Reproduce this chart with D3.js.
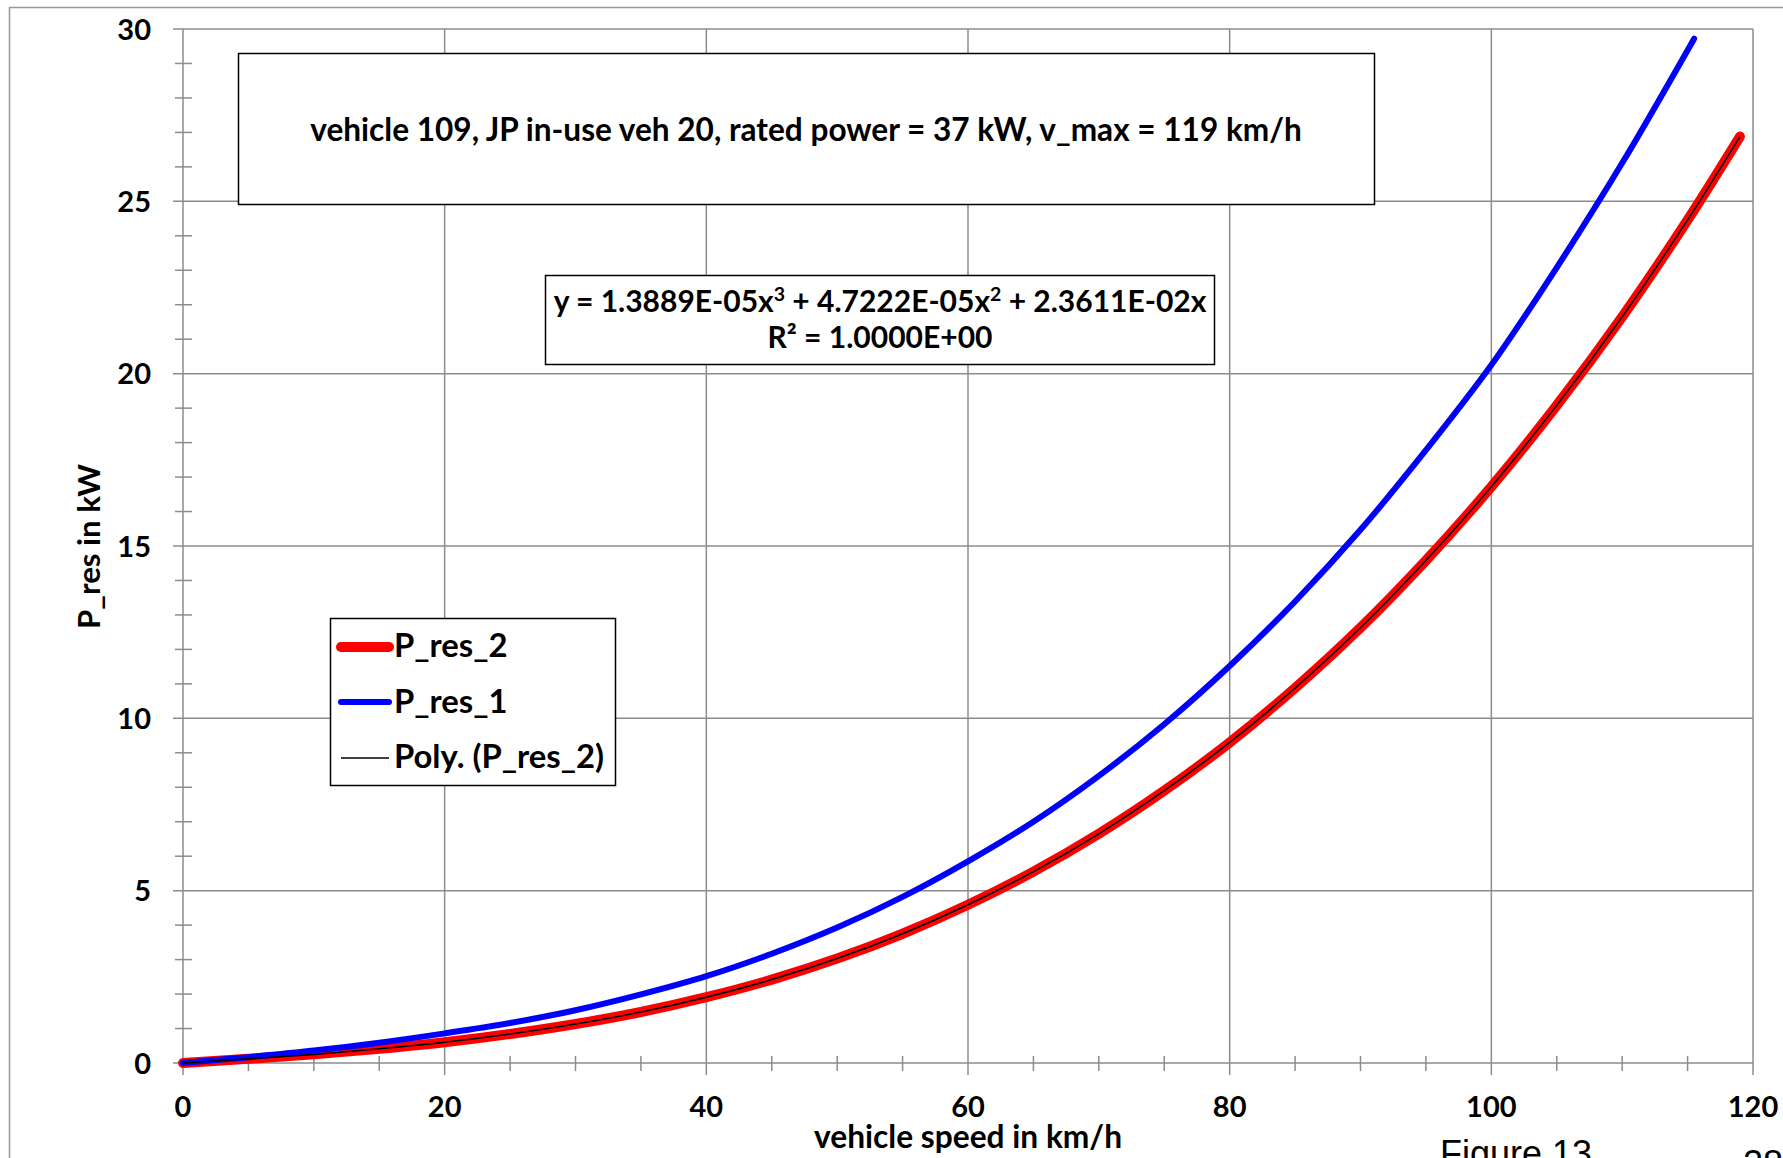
<!DOCTYPE html>
<html>
<head>
<meta charset="utf-8">
<script src="https://cdn.jsdelivr.net/npm/d3@7"></script>
<style>
  html, body { margin: 0; padding: 0; background: #fff; overflow: hidden; }
  svg { display: block; }
  text { font-family: Lato, "Open Sans", sans-serif; font-weight: bold; fill: #000; }
</style>
</head>
<body>
<svg id="chart" width="1783" height="1158"></svg>
<script>
// ---- data ----
const speedRes2 = [0, 5, 10, 15, 20, 25, 30, 35, 40, 45, 50, 55, 60, 65, 70, 75, 80, 85, 90, 95, 100, 105, 110, 115, 119];
const pRes2     = [0, 0.12, 0.25, 0.41, 0.60, 0.84, 1.13, 1.48, 1.91, 2.42, 3.03, 3.75, 4.59, 5.55, 6.65, 7.90, 9.30, 10.88, 12.63, 14.58, 16.72, 19.08, 21.65, 24.46, 26.88];
const speedRes1 = [0, 5, 10, 15, 20, 25, 30, 35, 40, 45, 50, 55, 60, 65, 70, 75, 80, 85, 90, 95, 100, 105, 110, 115.5];
const pRes1     = [0, 0.17, 0.36, 0.59, 0.86, 1.16, 1.53, 1.99, 2.52, 3.17, 3.93, 4.82, 5.85, 7.00, 8.33, 9.83, 11.52, 13.39, 15.47, 17.78, 20.25, 23.08, 26.11, 29.72];
const xTicks = [0, 20, 40, 60, 80, 100, 120];
const yTicks = [0, 5, 10, 15, 20, 25, 30];
const seriesNames = ["P_res_2", "P_res_1", "Poly. (P_res_2)"];
const titleText = "vehicle 109, JP in-use veh 20, rated power = 37 kW, v_max = 119 km/h";
const xLabel = "vehicle speed in km/h";
const yLabel = "P_res in kW";

// ---- layout ----
const svg = d3.select("#chart");
const x = d3.scaleLinear().domain([0, 120]).range([183, 1753]);
const y = d3.scaleLinear().domain([0, 30]).range([1063, 29]);
const gridColor = "#8c8c8c";

function fit(sel, target) {
  const w = sel.node().getComputedTextLength();
  const fs = parseFloat(sel.attr("font-size"));
  sel.attr("font-size", (fs * target / w).toFixed(2));
  return sel;
}

// outer frame
svg.append("path").attr("d", "M9.5,1158 L9.5,7.5 L1783,7.5")
  .attr("fill", "none").attr("stroke", "#999").attr("stroke-width", 1.5);

// grid
const g = svg.append("g");
g.selectAll("line.vg").data(xTicks).join("line")
  .attr("x1", d => x(d)).attr("x2", d => x(d))
  .attr("y1", y(30)).attr("y2", y(0) + 12)
  .attr("stroke", gridColor).attr("stroke-width", 1.5);
g.selectAll("line.hg").data(yTicks).join("line")
  .attr("y1", d => y(d)).attr("y2", d => y(d))
  .attr("x1", x(0) - 10).attr("x2", x(120))
  .attr("stroke", gridColor).attr("stroke-width", 1.5);
// minor ticks
const xMinor = d3.range(0, 121, 5).filter(d => d % 20 !== 0);
const yMinor = d3.range(0, 31, 1).filter(d => d % 5 !== 0);
g.selectAll("line.xm").data(xMinor).join("line")
  .attr("x1", d => x(d)).attr("x2", d => x(d))
  .attr("y1", y(0) - 7).attr("y2", y(0) + 8)
  .attr("stroke", gridColor).attr("stroke-width", 1.5);
g.selectAll("line.ym").data(yMinor).join("line")
  .attr("y1", d => y(d)).attr("y2", d => y(d))
  .attr("x1", x(0) - 8).attr("x2", x(0) + 9)
  .attr("stroke", gridColor).attr("stroke-width", 1.5);

// tick labels
svg.selectAll("text.xt").data(xTicks).join("text")
  .attr("x", d => x(d)).attr("y", 1117)
  .attr("text-anchor", "middle").attr("font-size", 29)
  .text(d => d);
svg.selectAll("text.yt").data(yTicks).join("text")
  .attr("x", 151).attr("y", d => y(d) + 10.5)
  .attr("text-anchor", "end").attr("font-size", 29)
  .text(d => d);

// axis titles
fit(svg.append("text").attr("x", 968).attr("y", 1148)
  .attr("text-anchor", "middle").attr("font-size", 27).text(xLabel), 308);
fit(svg.append("text").attr("transform", "translate(100,546.5) rotate(-90)")
  .attr("text-anchor", "middle").attr("font-size", 27).text(yLabel), 165);

// title box
svg.append("rect").attr("x", 238.5).attr("y", 53.5).attr("width", 1136).attr("height", 151)
  .attr("fill", "#fff").attr("stroke", "#000").attr("stroke-width", 1.5);
fit(svg.append("text").attr("x", 806).attr("y", 141)
  .attr("text-anchor", "middle").attr("font-size", 27).text(titleText), 992);

// equation box
svg.append("rect").attr("x", 545.5).attr("y", 275.5).attr("width", 669).attr("height", 89)
  .attr("fill", "#fff").attr("stroke", "#000").attr("stroke-width", 1.5);
const eq = svg.append("text").attr("x", 880).attr("y", 312).attr("text-anchor", "middle").attr("font-size", 28);
eq.append("tspan").text("y = 1.3889E-05x");
eq.append("tspan").attr("baseline-shift", "super").attr("font-size", "65%").text("3");
eq.append("tspan").text(" + 4.7222E-05x");
eq.append("tspan").attr("baseline-shift", "super").attr("font-size", "65%").text("2");
eq.append("tspan").text(" + 2.3611E-02x");
fit(eq, 653);
const r2 = svg.append("text").attr("x", 880).attr("y", 348).attr("text-anchor", "middle").attr("font-size", 28);
r2.append("tspan").text("R² = 1.0000E+00");
fit(r2, 225);

// series lines
const line = d3.line().x(d => x(d[0])).y(d => y(d[1])).curve(d3.curveCatmullRom);
const red = d3.zip(speedRes2, pRes2);
const blue = d3.zip(speedRes1, pRes1);
svg.append("path").attr("d", line(red)).attr("fill", "none")
  .attr("stroke", "#ff0000").attr("stroke-width", 10).attr("stroke-linecap", "round").attr("stroke-linejoin", "round");
svg.append("path").attr("d", line(blue)).attr("fill", "none")
  .attr("stroke", "#0000ff").attr("stroke-width", 6).attr("stroke-linecap", "round").attr("stroke-linejoin", "round");
svg.append("path").attr("d", line(red)).attr("fill", "none")
  .attr("stroke", "#000").attr("stroke-width", 1.5);

// legend
svg.append("rect").attr("x", 330.5).attr("y", 618.5).attr("width", 285).attr("height", 167)
  .attr("fill", "#fff").attr("stroke", "#000").attr("stroke-width", 1.5);
const legStyles = [
  {color: "#ff0000", w: 10, cap: "round"},
  {color: "#0000ff", w: 6, cap: "round"},
  {color: "#000", w: 1.5, cap: "butt"}
];
const legY = [647, 702, 758];
const legBase = [657, 713, 768];
const lg = svg.append("g");
lg.selectAll("line").data(seriesNames).join("line")
  .attr("x1", (d, i) => i === 2 ? 341 : 341).attr("x2", 389)
  .attr("y1", (d, i) => legY[i]).attr("y2", (d, i) => legY[i])
  .attr("stroke", (d, i) => legStyles[i].color)
  .attr("stroke-width", (d, i) => legStyles[i].w)
  .attr("stroke-linecap", (d, i) => legStyles[i].cap);
const lt = lg.selectAll("text").data(seriesNames).join("text")
  .attr("x", 394).attr("y", (d, i) => legBase[i]).attr("font-size", 31).text(d => d);
fit(d3.select(lt.nodes()[2]), 210);
const fsL = d3.select(lt.nodes()[2]).attr("font-size");
lt.attr("font-size", fsL);

// page furniture
svg.append("text").attr("x", 1440).attr("y", 1166).attr("font-family", "'Liberation Sans', Arial, sans-serif")
  .style("font-weight", "normal").style("font-family", "'Liberation Sans', Arial, sans-serif")
  .attr("font-size", 36).attr("fill", "#222").text("Figure 13");
svg.append("text").attr("x", 1743).attr("y", 1176)
  .style("font-weight", "normal").style("font-family", "'Liberation Sans', Arial, sans-serif")
  .attr("font-size", 36).attr("fill", "#222").text("28");
</script>
</body>
</html>
